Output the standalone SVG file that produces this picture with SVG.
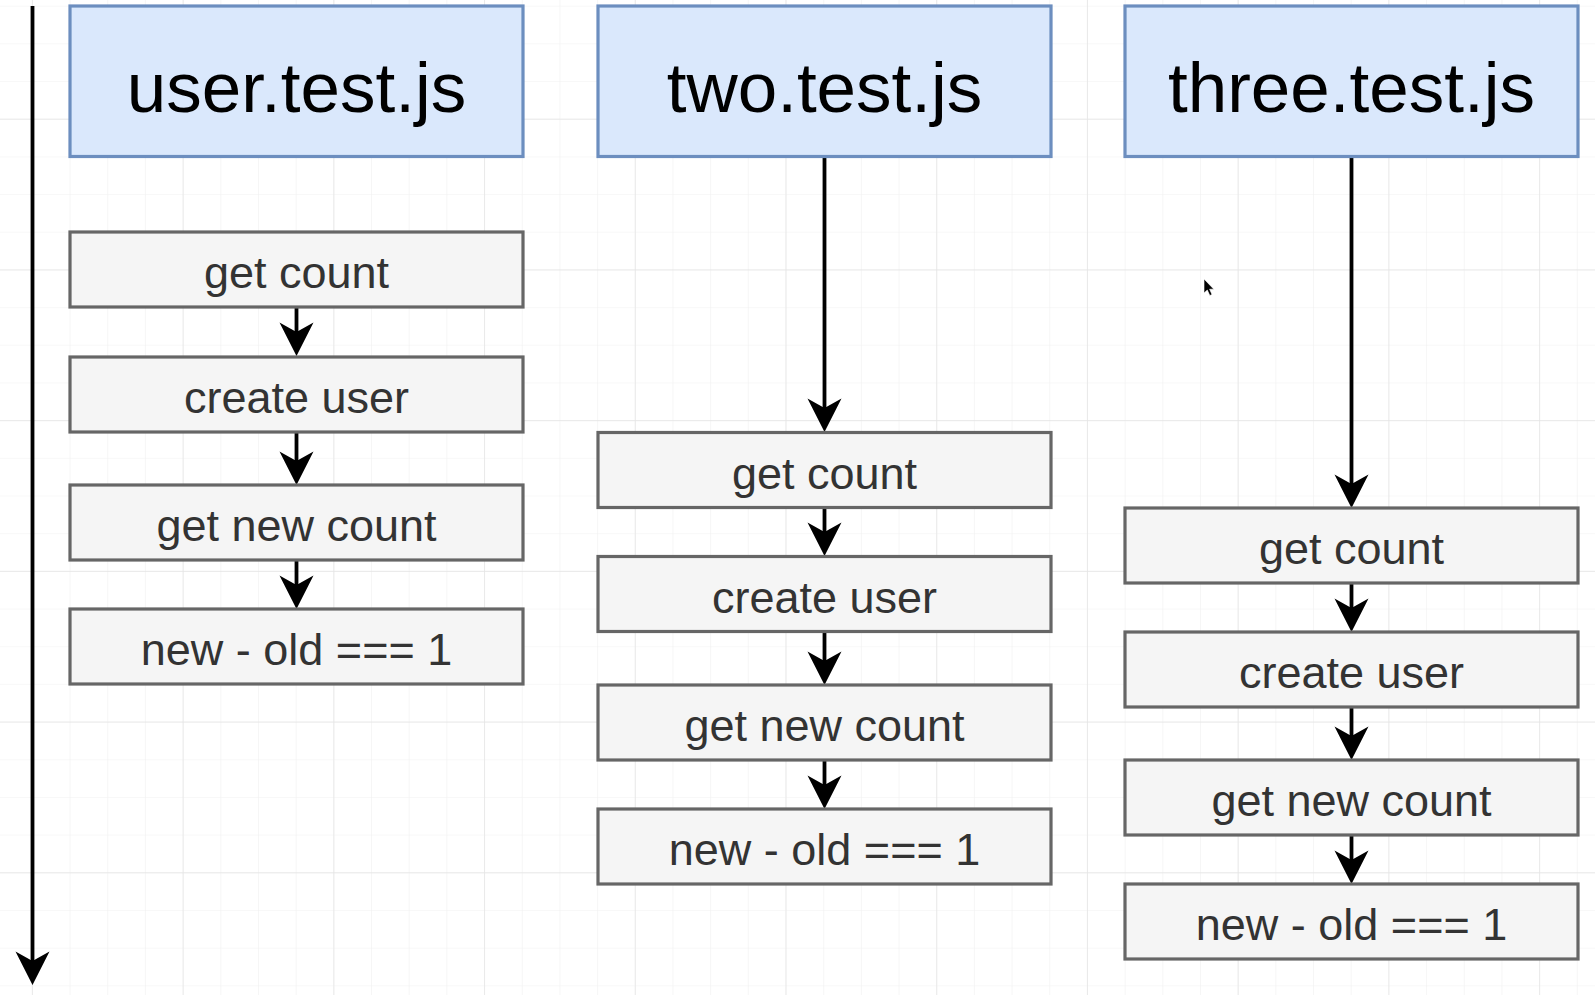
<svg xmlns="http://www.w3.org/2000/svg" width="1595" height="995" viewBox="0 0 1595 995">
  <style>
    .hdr { fill: #dae8fc; stroke: #6c8ebf; stroke-width: 3.2; }
    .step { fill: #f5f5f5; stroke: #666666; stroke-width: 3.2; }
    .hdr-text { font-family: "Liberation Sans", Arial, sans-serif; font-size: 71px; fill: #000000; text-anchor: middle; }
    .step-text { font-family: "Liberation Sans", Arial, sans-serif; font-size: 45px; fill: #333333; text-anchor: middle; }
    .edge { fill: none; stroke: #000000; stroke-width: 3.8; marker-end: url(#arrow); }
  </style>
  <defs>
    <!-- grid: fine lines every 37.68px, heavier lines every 4 cells -->
    <pattern id="gridMinor" patternUnits="userSpaceOnUse" x="31.9" y="5.66" width="37.68" height="37.68">
      <path d="M0,0 H37.68 M0,0 V37.68" fill="none" stroke="#f1f1f1" stroke-width="1.2"/>
    </pattern>
    <pattern id="gridMajor" patternUnits="userSpaceOnUse" x="31.9" y="118.7" width="150.72" height="150.72">
      <path d="M0,0 H150.72 M0,0 V150.72" fill="none" stroke="#e4e4e4" stroke-width="1.4"/>
    </pattern>
    <!-- classic notched arrowhead; origin sits at the notch where the line ends -->
    <marker id="arrow" markerUnits="userSpaceOnUse" viewBox="-10 -18 36 36" refX="0" refY="0" markerWidth="36" markerHeight="36" orient="auto">
      <path d="M24,0 L-9.5,-17 L0,0 L-9.5,17 Z" fill="#000000"/>
    </marker>
  </defs>

  <rect width="1595" height="995" fill="#ffffff"/>
  <rect width="1595" height="995" fill="url(#gridMinor)"/>
  <rect width="1595" height="995" fill="url(#gridMajor)"/>

  <!-- connectors -->
  <g id="connectors">
    <!-- time axis -->
    <path class="edge" d="M32.5,6 V961"/>
    <!-- user.test.js column -->
    <path class="edge" d="M296.5,308 V332"/>
    <path class="edge" d="M296.5,433 V461"/>
    <path class="edge" d="M296.5,561 V585"/>
    <!-- two.test.js column -->
    <path class="edge" d="M824.5,157 V408"/>
    <path class="edge" d="M824.5,509 V532"/>
    <path class="edge" d="M824.5,633 V661"/>
    <path class="edge" d="M824.5,761 V785"/>
    <!-- three.test.js column -->
    <path class="edge" d="M1351.5,157 V484"/>
    <path class="edge" d="M1351.5,584 V608"/>
    <path class="edge" d="M1351.5,708 V736"/>
    <path class="edge" d="M1351.5,836 V860"/>
  </g>

  <!-- user.test.js -->
  <g id="user-header">
    <rect class="hdr" x="70" y="6" width="453" height="150.5"/>
    <text class="hdr-text" x="296.5" y="112">user.test.js</text>
  </g>
  <g id="user-get-count">
    <rect class="step" x="70" y="232" width="453" height="75"/>
    <text class="step-text" x="296.5" y="288">get count</text>
  </g>
  <g id="user-create-user">
    <rect class="step" x="70" y="357" width="453" height="75"/>
    <text class="step-text" x="296.5" y="413">create user</text>
  </g>
  <g id="user-get-new-count">
    <rect class="step" x="70" y="485" width="453" height="75"/>
    <text class="step-text" x="296.5" y="541">get new count</text>
  </g>
  <g id="user-compare">
    <rect class="step" x="70" y="609" width="453" height="75"/>
    <text class="step-text" x="296.5" y="665">new - old === 1</text>
  </g>

  <!-- two.test.js -->
  <g id="two-header">
    <rect class="hdr" x="598" y="6" width="453" height="150.5"/>
    <text class="hdr-text" x="824.5" y="112">two.test.js</text>
  </g>
  <g id="two-get-count">
    <rect class="step" x="598" y="432.5" width="453" height="75"/>
    <text class="step-text" x="824.5" y="488.5">get count</text>
  </g>
  <g id="two-create-user">
    <rect class="step" x="598" y="556.5" width="453" height="75"/>
    <text class="step-text" x="824.5" y="612.5">create user</text>
  </g>
  <g id="two-get-new-count">
    <rect class="step" x="598" y="685" width="453" height="75"/>
    <text class="step-text" x="824.5" y="741">get new count</text>
  </g>
  <g id="two-compare">
    <rect class="step" x="598" y="809" width="453" height="75"/>
    <text class="step-text" x="824.5" y="865">new - old === 1</text>
  </g>

  <!-- three.test.js -->
  <g id="three-header">
    <rect class="hdr" x="1125" y="6" width="453" height="150.5"/>
    <text class="hdr-text" x="1351.5" y="112">three.test.js</text>
  </g>
  <g id="three-get-count">
    <rect class="step" x="1125" y="508" width="453" height="75"/>
    <text class="step-text" x="1351.5" y="564">get count</text>
  </g>
  <g id="three-create-user">
    <rect class="step" x="1125" y="632" width="453" height="75"/>
    <text class="step-text" x="1351.5" y="688">create user</text>
  </g>
  <g id="three-get-new-count">
    <rect class="step" x="1125" y="760" width="453" height="75"/>
    <text class="step-text" x="1351.5" y="816">get new count</text>
  </g>
  <g id="three-compare">
    <rect class="step" x="1125" y="884" width="453" height="75"/>
    <text class="step-text" x="1351.5" y="940">new - old === 1</text>
  </g>

  <!-- mouse pointer -->
  <path d="M1204,279 L1204,293 L1207.3,290 L1209.8,295.5 L1212,294.5 L1209.6,289.2 L1213.8,289.2 Z" fill="#000000" stroke="#ffffff" stroke-width="0.6"/>
</svg>
